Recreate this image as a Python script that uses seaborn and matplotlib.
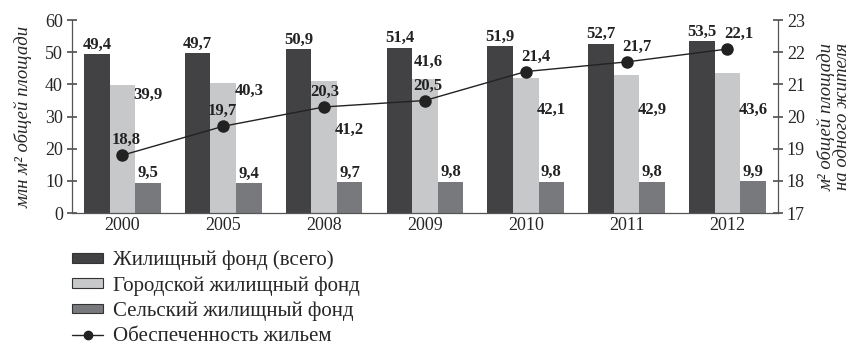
import numpy as np
import pandas as pd
import matplotlib.pyplot as plt
import seaborn as sns
from matplotlib.patches import Patch
from matplotlib.lines import Line2D

years = ['2000', '2005', '2008', '2009', '2010', '2011', '2012']
total = [49.4, 49.7, 50.9, 51.4, 51.9, 52.7, 53.5]
urban = [39.9, 40.3, 41.2, 41.6, 42.1, 42.9, 43.6]
rural = [9.5, 9.4, 9.7, 9.8, 9.8, 9.8, 9.9]
per_person = [18.8, 19.7, 20.3, 20.5, 21.4, 21.7, 22.1]

series = ['Жилищный фонд (всего)', 'Городской жилищный фонд', 'Сельский жилищный фонд']
line_name = 'Обеспеченность жильем'
colors = ['#424244', '#c7c8ca', '#78797c']

sns.set_theme(style='white')
plt.rcParams['font.family'] = ['Liberation Serif', 'DejaVu Serif']

df = pd.DataFrame({
    'year': years * 3,
    'value': total + urban + rural,
    'series': [s for s in series for _ in years],
})

fig = plt.figure(figsize=(8.52, 3.46), dpi=100)
ax = fig.add_axes([0.0845, 0.384, 0.8285, 0.558])

sns.barplot(data=df, x='year', y='value', hue='series', hue_order=series,
            palette=colors, width=0.76, gap=0, saturation=1, linewidth=0,
            legend=False, ax=ax)

ax.set_ylim(0, 60)
ax.set_xlim(-0.5, 6.5)
ax.set_yticks(range(0, 61, 10))
ax.set_xlabel('')
ax.set_ylabel('млн м² общей площади', fontsize=13.5, style='italic', labelpad=9)
ax.set_xticks(np.arange(7))
ax.set_xticklabels(years, fontsize=13)
ax.set_xticks(np.arange(-0.5, 7, 1), minor=True)
ax.tick_params(axis='x', which='major', length=0, pad=3)
ax.tick_params(axis='x', which='minor', length=8, direction='inout', color='#555')
ax.tick_params(axis='y', labelsize=13, length=7, direction='inout', color='#555', pad=3)
for s in ['top', 'right']:
    ax.spines[s].set_visible(False)
for s in ['left', 'bottom']:
    ax.spines[s].set_color('#555')
    ax.spines[s].set_linewidth(0.9)

bw = 0.76 / 3
lab = dict(fontsize=12, fontweight='bold', ha='center', color='#222')
urban_label_y = [36.7, 38, 26, 47, 32, 32, 32]
urban_label_dx = [bw, bw, bw, 0.03, bw, bw, bw]
line_label_dx = [4, -1, 1, 3, 10, 10, 11]
for i in range(7):
    ax.annotate(f'{total[i]:.1f}'.replace('.', ','), (i - bw, total[i]),
                xytext=(0, 1), textcoords='offset points', va='bottom', **lab)
    ax.text(i + urban_label_dx[i], urban_label_y[i], f'{urban[i]:.1f}'.replace('.', ','),
            va='center', **lab)
    ax.annotate(f'{rural[i]:.1f}'.replace('.', ','), (i + bw, rural[i]),
                xytext=(0, 1), textcoords='offset points', va='bottom', **lab)

ax2 = ax.twinx()
sns.lineplot(x=np.arange(7), y=per_person, ax=ax2, color='#222', linewidth=1,
             marker='o', markersize=9, markeredgewidth=0, legend=False)
ax2.set_ylim(17, 23)
ax2.set_yticks(range(17, 24))
ax2.tick_params(axis='y', labelsize=13, length=7, direction='inout', color='#555', pad=3)
ax2.set_ylabel('м² общей площади\nна одного жителя', fontsize=13.5, style='italic',
               labelpad=9, linespacing=0.9)
for s in ['top', 'left', 'bottom']:
    ax2.spines[s].set_visible(False)
ax2.spines['right'].set_color('#555')
ax2.spines['right'].set_linewidth(0.9)
for i in range(7):
    ax2.annotate(f'{per_person[i]:.1f}'.replace('.', ','), (i, per_person[i]),
                 xytext=(line_label_dx[i] * 0.72, 5), textcoords='offset points',
                 va='bottom', **lab)

handles = [Patch(facecolor=c, edgecolor='#333', linewidth=0.8) for c in colors]
handles.append(Line2D([0], [0], color='#222', lw=1, marker='o', markersize=6))
fig.legend(handles, series + [line_name], loc='upper left',
           bbox_to_anchor=(0.0845, 0.276), frameon=False, fontsize=15,
           handlelength=1.5, handleheight=0.35, labelspacing=0.28,
           handletextpad=0.45, borderaxespad=0, borderpad=0)

fig.savefig('out.png', dpi=100)
